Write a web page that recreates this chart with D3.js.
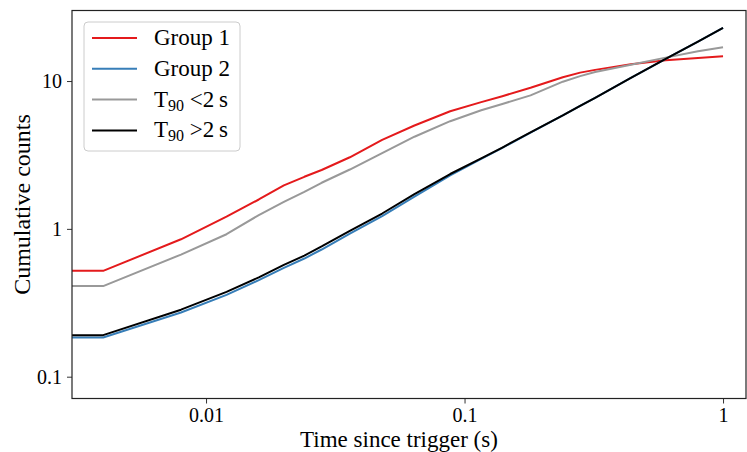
<!DOCTYPE html>
<html>
<head>
<meta charset="utf-8">
<script src="https://cdn.jsdelivr.net/npm/d3@7"></script>
<style>
	body { margin: 0; background: #fff; }
	svg { display: block; }
	text { font-family: "Liberation Serif", "DejaVu Serif", serif; fill: #000; }
</style>
</head>
<body>
<svg id="chart" width="747" height="452"></svg>
<script>

// time since trigger (s), sample points of the cumulative curves
var times = [0.002, 0.004, 0.008, 0.012, 0.016, 0.020, 0.024, 0.028, 0.036, 0.048, 0.064, 0.088, 0.116, 0.14, 0.18, 0.24, 0.28, 0.32, 0.44, 0.60, 0.80, 1.0];

var group1 = [0.52, 0.52, 0.85, 1.21, 1.58, 1.97, 2.25, 2.50, 3.05, 4.0, 5.0, 6.25, 7.2, 7.9, 9.0, 10.6, 11.4, 11.9, 13.0, 13.8, 14.3, 14.7];
var group2 = [0.184, 0.184, 0.272, 0.358, 0.45, 0.545, 0.63, 0.725, 0.93, 1.22, 1.65, 2.30, 2.97, 3.53, 4.48, 5.85, 6.8, 7.7, 10.5, 14.1, 18.5, 22.9];
var shortGrb = [0.41, 0.41, 0.67, 0.92, 1.24, 1.52, 1.78, 2.05, 2.52, 3.25, 4.2, 5.35, 6.35, 7.0, 8.0, 9.9, 10.8, 11.5, 12.9, 14.4, 15.9, 16.9];
var longGrb = [0.191, 0.191, 0.284, 0.375, 0.47, 0.57, 0.66, 0.76, 0.97, 1.27, 1.72, 2.35, 3.0, 3.55, 4.5, 5.85, 6.8, 7.7, 10.5, 14.1, 18.5, 22.9];

var xTicks = [0.01, 0.1, 1];
var xTickLabels = ["0.01", "0.1", "1"];
var yTicks = [0.1, 1, 10];
var yTickLabels = ["0.1", "1", "10"];

// drawing order: group 1, group 2, T90 < 2 s, T90 > 2 s
var series = [
	{ name: "Group 1", values: group1, color: "#e41a1c" },
	{ name: "Group 2", values: group2, color: "#377eb8" },
	{ name: "short", values: shortGrb, color: "#999999" },
	{ name: "long", values: longGrb, color: "#000000" }
];

var plot = { left: 72, right: 746, top: 10.5, bottom: 398.5 };

var svg = d3.select("#chart");

var x = d3.scaleLog().domain([0.00303, 1.227]).range([plot.left, plot.right]);
var y = d3.scaleLog().domain([0.0712, 30]).range([plot.bottom, plot.top]);

svg.append("clipPath").attr("id", "clip")
	.append("rect")
	.attr("x", plot.left).attr("y", plot.top)
	.attr("width", plot.right - plot.left).attr("height", plot.bottom - plot.top);

// minor ticks for a log axis
function minorTicks(scale) {
	var d = scale.domain(), out = [];
	for (var e = -4; e <= 2; e++) {
		for (var m = 2; m <= 9; m++) {
			var v = m * Math.pow(10, e);
			if (v >= d[0] && v <= d[1]) out.push(v);
		}
	}
	return out;
}

// lines
var line = d3.line()
	.x(function(d) { return x(d[0]); })
	.y(function(d) { return y(d[1]); });

svg.append("g").attr("clip-path", "url(#clip)")
	.selectAll("path")
	.data(series)
	.enter().append("path")
	.attr("fill", "none")
	.attr("stroke", function(s) { return s.color; })
	.attr("stroke-width", 2)
	.attr("stroke-linejoin", "round")
	.attr("d", function(s) { return line(times.map(function(t, i) { return [t, s.values[i]]; })); });

// axes
var xAxis = svg.append("g").attr("transform", "translate(0," + plot.bottom + ")");
xAxis.call(d3.axisBottom(x).tickValues(minorTicks(x)).tickSize(3).tickFormat(""));
xAxis.call(d3.axisBottom(x).tickValues(xTicks).tickSize(5).tickPadding(4)
	.tickFormat(function(d, i) { return xTickLabels[i]; }));

var yAxis = svg.append("g").attr("transform", "translate(" + plot.left + ",0)");
yAxis.call(d3.axisLeft(y).tickValues(minorTicks(y)).tickSize(3).tickFormat(""));
yAxis.call(d3.axisLeft(y).tickValues(yTicks).tickSize(5).tickPadding(5)
	.tickFormat(function(d, i) { return yTickLabels[i]; }));

svg.selectAll(".domain").remove();
svg.selectAll(".tick line").attr("stroke", "#333").attr("stroke-width", 1);
svg.selectAll(".tick text").attr("font-size", 20).attr("font-family", null).attr("fill", "#111");

// frame
svg.append("rect")
	.attr("x", plot.left).attr("y", plot.top)
	.attr("width", plot.right - plot.left).attr("height", plot.bottom - plot.top)
	.attr("fill", "none").attr("stroke", "#222").attr("stroke-width", 1.2);

// axis labels
svg.append("text")
	.attr("x", (plot.left + plot.right) / 2 - 10).attr("y", 447)
	.attr("text-anchor", "middle").attr("font-size", 23)
	.text("Time since trigger (s)");

svg.append("text")
	.attr("transform", "translate(30," + ((plot.top + plot.bottom) / 2) + ") rotate(-90)")
	.attr("text-anchor", "middle").attr("font-size", 24)
	.text("Cumulative counts");

// legend
var legend = svg.append("g").attr("transform", "translate(84,22)");
legend.append("rect")
	.attr("width", 156).attr("height", 129).attr("rx", 4)
	.attr("fill", "#fff").attr("fill-opacity", 0.8)
	.attr("stroke", "#ccc").attr("stroke-width", 1);

var rows = legend.selectAll("g.row")
	.data(series)
	.enter().append("g").attr("class", "row")
	.attr("transform", function(d, i) { return "translate(0," + (16 + i * 30.8) + ")"; });

rows.append("line")
	.attr("x1", 8).attr("x2", 53)
	.attr("stroke", function(s) { return s.color; })
	.attr("stroke-width", 2);

rows.each(function(s) {
	var t = d3.select(this).append("text")
		.attr("x", 70).attr("y", 7).attr("font-size", 23);
	if (s.name === "short" || s.name === "long") {
		t.append("tspan").text("T");
		t.append("tspan").attr("dy", 4).attr("font-size", 16).text("90");
		t.append("tspan").attr("dy", -4).text(s.name === "short" ? " <2\u2009s" : " >2\u2009s");
	} else {
		t.text(s.name);
	}
});

</script>
</body>
</html>
